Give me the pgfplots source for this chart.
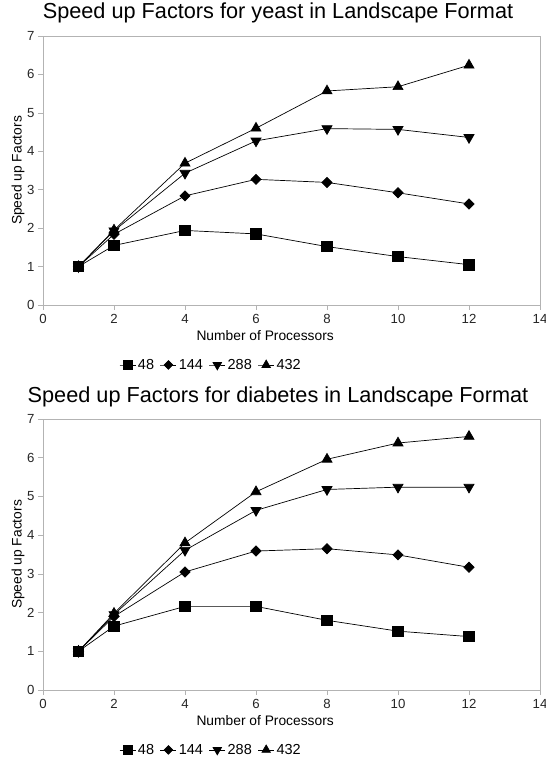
\documentclass[border=0pt]{standalone}
\usepackage{pgfplots}
\pgfplotsset{compat=1.18}
\usepackage{fontspec}
\setmainfont{Liberation Sans}
\definecolor{axgray}{HTML}{B3B3B3}

\pgfplotstableread{
x  a48   a144  a288  a432
1  1.00  1.00  1.00  1.00
2  1.55  1.84  1.93  1.95
4  1.94  2.84  3.43  3.69
6  1.85  3.27  4.27  4.60
8  1.52  3.19  4.59  5.57
10 1.26  2.92  4.57  5.68
12 1.05  2.63  4.36  6.24
}\yeast

\pgfplotstableread{
x  a48   a144  a288  a432
1  1.00  1.00  1.00  1.00
2  1.65  1.90  1.95  1.98
4  2.16  3.05  3.61  3.80
6  2.16  3.59  4.64  5.12
8  1.80  3.65  5.18  5.96
10 1.52  3.49  5.24  6.38
12 1.38  3.17  5.24  6.55
}\diabetes

\pgfplotsset{
  speedstyle/.style={
    scale only axis,
    width=497bp, height=269bp,
    xmin=0, xmax=14, ymin=0, ymax=7,
    xtick={0,2,...,14}, ytick={0,1,...,7},
    axis line style={axgray},
    tick style={axgray, line width=0.6pt},
    tick align=outside, tick pos=left,
    major tick length=5bp,
    /pgf/number format/assume math mode=true,
    ticklabel style={font=\fontsize{13.2bp}{15bp}\selectfont, text=black!85},
    xticklabel style={yshift=-1bp},
    xlabel={Number of Processors},
    ylabel={Speed up Factors},
    label style={font=\fontsize{13.8bp}{16bp}\selectfont},
    xlabel style={at={(axis description cs:0.447,-0.112)}, anchor=center},
    ylabel style={at={(axis description cs:-0.05,0.5)}, anchor=center, rotate=0},
    legend columns=4,
    legend style={draw=none, fill=none, font=\fontsize{14.5bp}{16bp}\selectfont,
      /tikz/every even column/.append style={column sep=4bp},
      inner xsep=0pt, inner ysep=0pt},
    legend cell align=left,
    legend image code/.code={\draw[mark repeat=2,mark phase=2,##1,/tikz/every mark/.append style={scale=0.85}] plot coordinates {(0bp,0bp)(8bp,0bp)(16bp,0bp)};},
    every axis plot/.append style={black, line width=0.7pt},
  },
  m48/.style={mark=square*, mark size=5.2bp, mark options={fill=black}},
  m144/.style={mark=square*, mark size=3.6bp, mark options={fill=black, rotate=45}},
  m288/.style={mark=triangle*, mark size=5.8bp, mark options={fill=black, rotate=180}},
  m432/.style={mark=triangle*, mark size=5.8bp, mark options={fill=black}},
}

\begin{document}
\begin{tikzpicture}
\useasboundingbox (0,0) rectangle (546bp,-764bp);
\node[font=\fontsize{21.7bp}{24bp}\selectfont, anchor=center] at (278bp,-13bp) {Speed up Factors for yeast in Landscape Format};
\begin{axis}[speedstyle, at={(43bp,-305bp)}, anchor=south west,
  legend style={at={(axis description cs:0.338,-0.223)}, anchor=center}]
\addplot[m48] table[x=x,y=a48] {\yeast};
\addplot[m144] table[x=x,y=a144] {\yeast};
\addplot[m288] table[x=x,y=a288] {\yeast};
\addplot[m432] table[x=x,y=a432] {\yeast};
\legend{48,144,288,432}
\end{axis}

\node[font=\fontsize{21.7bp}{24bp}\selectfont, anchor=center] at (278bp,-397bp) {Speed up Factors for diabetes in Landscape Format};
\begin{axis}[speedstyle, at={(43bp,-690bp)}, anchor=south west, height=271bp,
  legend style={at={(axis description cs:0.338,-0.221)}, anchor=center}]
\addplot[m48] table[x=x,y=a48] {\diabetes};
\addplot[m144] table[x=x,y=a144] {\diabetes};
\addplot[m288] table[x=x,y=a288] {\diabetes};
\addplot[m432] table[x=x,y=a432] {\diabetes};
\legend{48,144,288,432}
\end{axis}
\end{tikzpicture}
\end{document}
